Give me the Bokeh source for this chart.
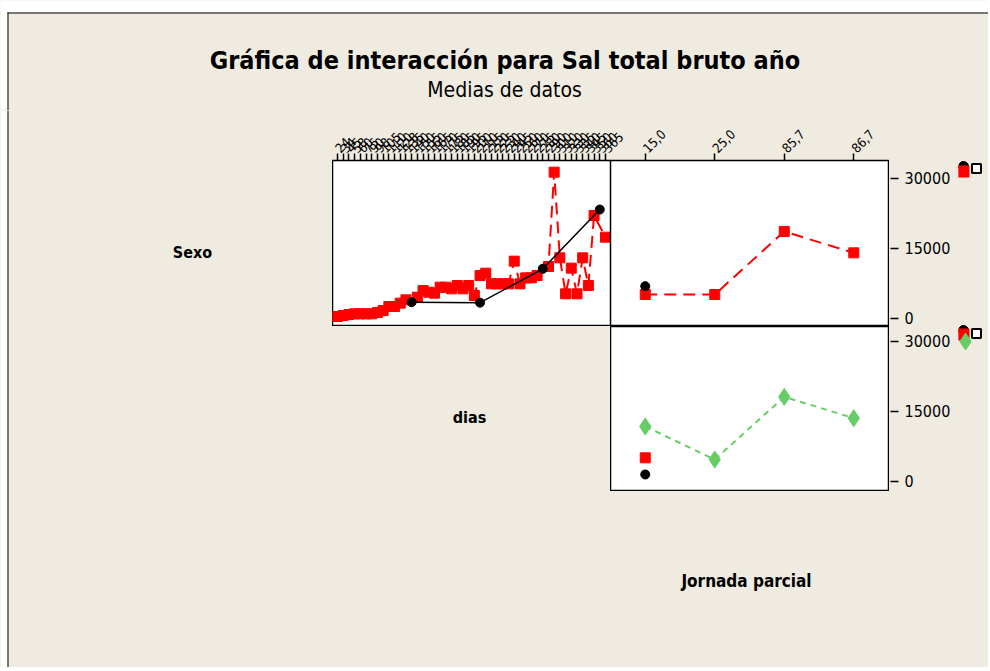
from math import pi
from bokeh.plotting import figure
from bokeh.models import Range1d, LinearAxis, FixedTicker, Label, BoxAnnotation, Span
from bokeh.layouts import column, row
from bokeh.embed import file_html
from bokeh.resources import INLINE

BG = "#EFEBE1"
FONT = "DejaVu Sans Condensed, DejaVu Sans"
RED = "#FF0000"
GREEN = "#66CC66"

# ---------------- data ----------------
dias_labels = ["24", "34", "45", "58", "60", "75", "90", "98", "105", "110", "120", "128",
               "135", "140", "150", "155", "160", "165", "170", "175", "180", "185", "190",
               "195", "200", "210", "215", "220", "225", "230", "240", "245", "250", "260",
               "270", "275", "280", "290", "300", "310", "320", "330", "335", "340", "345",
               "350", "360", "365"]
# Sexo level 1 (red squares) - mean per dias
sexo_red_dias = [430, 640, 860, 1000, 1000, 1000, 1000, 1300, 1710, 2570, 2570, 3290, 4000, None,
                 4570, 6000, 5640, 5430, 6710, 6700, 6360, 7070, 6360, 7070, 4930, 9210,
                 9710, 7430, 7430, 7430, 7430, 12290, 7430, 8710, 8710, 9210, None,
                 11140, 31360, 13000, 5290, 10790, 5290, 13000, 7070, 22070, None, 17430]
# Sexo level 2 (black circles) - mean per dias
sexo_black_dias = [None] * 13 + [3500] + [None] * 11 + [3400] + [None] * 10 + [10650] + \
                  [None] * 9 + [23350, None]

jornada_labels = ["15,0", "25,0", "85,7", "86,7"]
sexo_red_jornada = [5140, 5140, 18640, 14070]
sexo_black_jornada = [6930, None, None, None]
dias_green_jornada = [11790, 4710, 18140, 13570]
dias_red_jornada = [5070, None, None, None]
dias_black_jornada = [1500, None, None, None]

y_ticks = [0, 15000, 30000]

# ---------------- panel geometry ----------------
n = len(dias_labels)
PAD = 0.88
TL_LO, TL_HI = -PAD, n - 1 + PAD          # dias panel span
SPAN = TL_HI - TL_LO                      # width of one panel in data units
TR_STEP = SPAN / len(jornada_labels)
TOP_Y = (-1714, 33857)                    # value range of the upper row
BOT_Y = (-2143, 33214)                    # value range of the lower row
ROW_OFFSET = 34928.6                      # shift of the upper row on the shared value axis


def tr_pos(j):
    """position of jornada category j (0-based) inside the right-hand panel"""
    return round(TL_HI + (j + 0.5) * TR_STEP, 4)


def pairs(values, pos=lambda i: i):
    xs, ys = [], []
    for i, v in enumerate(values):
        if v is not None:
            xs.append(pos(i))
            ys.append(v)
    return xs, ys


def blank(w, h, top=0):
    f = figure(width=w, height=h, x_range=Range1d(0, w), y_range=Range1d(0, h - top),
               x_axis_location=None, y_axis_location=None, toolbar_location=None,
               output_backend="svg")
    f.min_border_left = f.min_border_right = f.min_border_bottom = 0
    f.min_border_top = top
    f.grid.visible = False
    f.outline_line_color = None
    f.background_fill_color = BG
    f.border_fill_color = BG
    return f


def box(f, l, r, b, t, color):
    f.add_layout(BoxAnnotation(left=l, right=r, bottom=b, top=t, fill_color=color,
                               fill_alpha=1, line_color=None))


def bold_label(f, x, y, text, size):
    f.add_layout(Label(x=x, y=y, text=text, text_align="center", text_baseline="middle",
                       text_font=FONT, text_font_size=size, text_font_style="bold",
                       text_color="black"))


W_TOTAL = 988
TOP_W = 278 * 2 + 1
AX_W = 69
LEG_W = W_TOTAL - 332 - TOP_W - AX_W
BOT_H = 176

# ---------------- title area ----------------
title_fig = blank(W_TOTAL, 110)
box(title_fig, 0, W_TOTAL, 98, 110, "white")
box(title_fig, 0, 7, 0, 110, "white")
box(title_fig, 7, W_TOTAL, 97, 98, "black")
box(title_fig, 7, 8, 0, 98, "black")
bold_label(title_fig, 504.5, 50, "Gráfica de interacción para Sal total bruto año", "25px")
title_fig.add_layout(Label(x=504, y=21, text="Medias de datos", text_align="center",
                           text_baseline="middle", text_font=FONT, text_font_size="21px",
                           text_color="black"))

# ---------------- left area ----------------
left_fig = blank(332, 381 + BOT_H)
box(left_fig, 0, 7, 0, 381 + BOT_H, "white")
box(left_fig, 7, 8, 0, 381 + BOT_H, "black")
bold_label(left_fig, 192, 381 + BOT_H - 142, "Sexo", "16px")

dias_fig = blank(278, 165)
bold_label(dias_fig, 137, 74, "dias", "16px")

bottom_fig = blank(TOP_W + AX_W + LEG_W, BOT_H)
bold_label(bottom_fig, 414, BOT_H - 89, "Jornada parcial", "17px")


def panel(w, h, xr, yr, top=0, right=1):
    f = figure(width=w, height=h, x_range=xr, y_range=yr, x_axis_location=None,
               y_axis_location=None, toolbar_location=None, output_backend="svg")
    f.min_border_left = 0
    f.min_border_bottom = 0
    f.min_border_top = top
    f.min_border_right = right
    f.grid.visible = False
    f.background_fill_color = "white"
    f.border_fill_color = BG
    f.outline_line_color = "black"
    f.outline_line_width = 1.5
    return f


# ---------------- top row: dias x Sexo | Jornada x Sexo ----------------
top = panel(TOP_W, 216, Range1d(TL_LO, TL_HI + SPAN), Range1d(*TOP_Y), top=50)
tl_ticks = list(range(n))
tr_ticks = [tr_pos(j) for j in range(len(jornada_labels))]
overrides = {t: l for t, l in zip(tl_ticks, dias_labels)}
overrides.update({t: l for t, l in zip(tr_ticks, jornada_labels)})
ax = LinearAxis(ticker=FixedTicker(ticks=tl_ticks + tr_ticks), major_label_overrides=overrides)
ax.major_label_orientation = pi / 4
ax.major_label_text_font = FONT
ax.major_label_text_font_size = "13px"
ax.major_label_text_color = "black"
ax.major_tick_out = 7
ax.major_tick_in = 0
ax.major_tick_line_color = "black"
ax.major_tick_line_width = 1.5
ax.minor_tick_line_color = None
ax.axis_line_color = None
ax.major_label_standoff = 3
top.add_layout(ax, "above")
top.add_layout(Span(location=TL_HI, dimension="height", line_color="black", line_width=1.5))

rx, ry = pairs(sexo_red_dias)
top.line(rx, ry, line_color=RED, line_width=2, line_dash="12 7")
top.scatter(rx, ry, marker="square", size=10, fill_color=RED, line_color=RED)
bx, by = pairs(sexo_black_dias)
top.line(bx, by, line_color="black", line_width=1.5)
top.scatter(bx, by, marker="circle", size=9, fill_color="black", line_color="black")

x, y = pairs(sexo_red_jornada, tr_pos)
top.line(x, y, line_color=RED, line_width=2, line_dash="12 7")
top.scatter(x, y, marker="square", size=10, fill_color=RED, line_color=RED)
x, y = pairs(sexo_black_jornada, tr_pos)
top.scatter(x, y, marker="circle", size=9, fill_color="black", line_color="black")

# ---------------- bottom-right: Jornada x dias ----------------
br = panel(278 + 1, 165, Range1d(0.5, 4.5), Range1d(*BOT_Y))
x, y = pairs(dias_green_jornada, lambda i: i + 1)
br.line(x, y, line_color=GREEN, line_width=2, line_dash="6 5")
br.scatter(x, y, marker="diamond", size=17, fill_color=GREEN, line_color=GREEN)
x, y = pairs(dias_red_jornada, lambda i: i + 1)
br.scatter(x, y, marker="square", size=10, fill_color=RED, line_color=RED)
x, y = pairs(dias_black_jornada, lambda i: i + 1)
br.scatter(x, y, marker="circle", size=9, fill_color="black", line_color="black")

# ---------------- shared value axis for both rows ----------------
axf = figure(width=AX_W, height=381, x_range=Range1d(0, 1),
             y_range=Range1d(BOT_Y[0], TOP_Y[1] + ROW_OFFSET),
             x_axis_location=None, y_axis_location=None, toolbar_location=None,
             output_backend="svg")
axf.min_border_left = 0
axf.min_border_bottom = 0
axf.min_border_top = 50
axf.min_border_right = AX_W - 1
axf.grid.visible = False
axf.outline_line_color = None
axf.background_fill_color = BG
axf.border_fill_color = BG
val_ticks = y_ticks + [round(t + ROW_OFFSET, 1) for t in y_ticks]
val_labels = {t: str(v) for t, v in zip(val_ticks, y_ticks + y_ticks)}
vax = LinearAxis(ticker=FixedTicker(ticks=val_ticks), major_label_overrides=val_labels)
vax.major_label_text_font = FONT
vax.major_label_text_font_size = "16px"
vax.major_label_text_color = "black"
vax.major_tick_out = 8
vax.major_tick_in = 0
vax.major_tick_line_color = "black"
vax.major_tick_line_width = 1.5
vax.minor_tick_line_color = None
vax.axis_line_color = None
vax.major_label_standoff = 6
axf.add_layout(vax, "right")

# ---------------- legend symbols (squeezed) ----------------
leg = blank(LEG_W, 381, top=50)
leg.scatter([5], [325], marker="circle", size=10, fill_color="black", line_color="black")
leg.scatter([5], [320], marker="square", size=11, fill_color=RED, line_color=RED)
leg.scatter([18], [323], marker="square", size=9, fill_color="white", line_color="black", line_width=2)
leg.scatter([5], [161], marker="circle", size=10, fill_color="black", line_color="black")
leg.scatter([5], [157], marker="square", size=11, fill_color=RED, line_color=RED)
leg.scatter([18], [158], marker="square", size=9, fill_color="white", line_color="black", line_width=2)
leg.scatter([7], [150], marker="diamond", size=17, fill_color=GREEN, line_color=GREEN)

st = {"background-color": BG}
panels = column(top, row(dias_fig, br, spacing=0, styles=st), spacing=0, styles=st)
grid_part = row(panels, axf, leg, spacing=0, styles=st)
right_part = column(grid_part, bottom_fig, spacing=0, styles=st)
body = row(left_fig, right_part, spacing=0, styles=st)
page = column(title_fig, body, spacing=0)

open("out.html", "w").write(file_html(page, INLINE))
